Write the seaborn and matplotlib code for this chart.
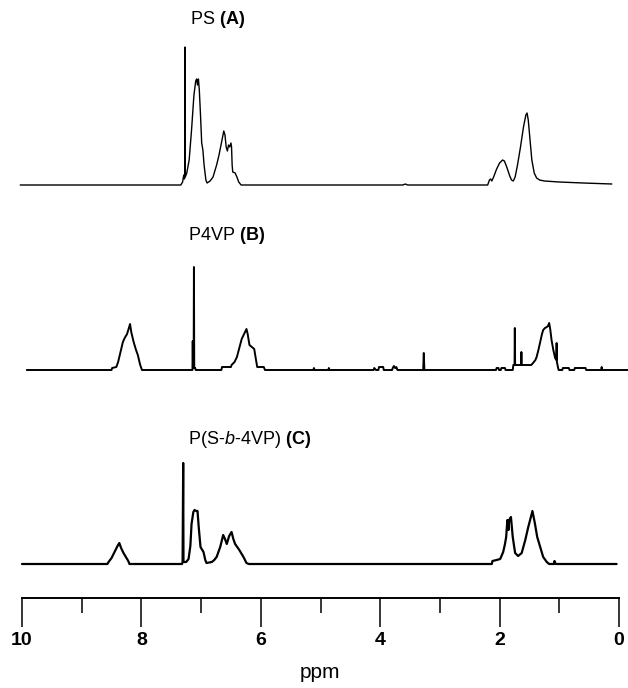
import matplotlib
matplotlib.use("Agg")
import matplotlib.pyplot as plt
from matplotlib.ticker import MultipleLocator
import seaborn as sns

# spectrum A: PS
ppm_a = [10.03, 7.34, 7.31, 7.29, 7.28, 7.275, 7.27, 7.265, 7.24, 7.20, 7.16, 7.12,
         7.09, 7.075, 7.06, 7.045, 7.03, 7.01, 6.99, 6.97, 6.95, 6.92, 6.90, 6.85,
         6.80, 6.77, 6.74, 6.70, 6.66, 6.62, 6.60, 6.58, 6.56, 6.54, 6.52, 6.50,
         6.49, 6.48, 6.47, 6.43, 6.40, 6.37, 6.33, 3.62, 3.58, 3.54, 2.20, 2.17,
         2.15, 2.13, 2.10, 2.05, 2.00, 1.95, 1.92, 1.88, 1.83, 1.80, 1.77, 1.74,
         1.70, 1.65, 1.60, 1.56, 1.54, 1.52, 1.49, 1.46, 1.42, 1.38, 1.33, 1.25,
         1.00, 0.60, 0.12]
int_a = [0, 0, 3, 10, 6, 8, 138, 8, 12, 25, 55, 90,
         104, 106, 100, 106, 95, 70, 42, 35, 20, 5, 2, 4,
         8, 14, 20, 30, 42, 54, 50, 38, 34, 40, 38, 42,
         38, 20, 13, 12, 8, 3, 0, 0, 1, 0, 0, 5,
         6, 4, 8, 16, 22, 25, 24, 18, 9, 5, 4, 8,
         20, 38, 58, 70, 72, 65, 45, 25, 12, 7, 5, 4,
         3, 2, 1]

# spectrum B: P4VP
ppm_b = [9.92, 8.50, 8.49, 8.42, 8.39, 8.35, 8.31, 8.28, 8.24, 8.21, 8.19, 8.17,
         8.13, 8.09, 8.06, 8.02, 7.99, 7.145, 7.14, 7.135, 7.125, 7.12, 7.115, 7.10,
         7.09, 6.66, 6.65, 6.50, 6.49, 6.44, 6.40, 6.36, 6.32, 6.28, 6.24, 6.22,
         6.19, 6.17, 6.11, 6.08, 6.06, 5.95, 5.93, 5.12, 5.11, 5.10, 4.87, 4.86,
         4.85, 4.11, 4.10, 4.07, 4.03, 4.02, 3.95, 3.94, 3.80, 3.79, 3.77, 3.75,
         3.73, 3.71, 3.28, 3.27, 3.26, 2.06, 2.05, 2.02, 2.01, 1.98, 1.97, 1.91,
         1.90, 1.78, 1.77, 1.75, 1.745, 1.74, 1.64, 1.635, 1.63, 1.47, 1.44, 1.40,
         1.38, 1.35, 1.32, 1.29, 1.27, 1.24, 1.21, 1.19, 1.17, 1.15, 1.13, 1.10,
         1.07, 1.05, 1.045, 1.04, 1.02, 1.01, 0.95, 0.94, 0.84, 0.83, 0.75, 0.74,
         0.56, 0.55, 0.30, 0.29, 0.28, -0.15]
int_b = [0, 0, 2, 3, 8, 18, 28, 32, 36, 42, 46, 38,
         28, 20, 15, 5, 0, 0, 29, 2, 2, 103, 2, 2,
         0, 0, 3, 3, 5, 8, 13, 22, 31, 36, 41, 36,
         25, 24, 21, 10, 3, 3, 0, 0, 2, 0, 0, 2,
         0, 0, 2, 0, 0, 3, 3, 0, 0, 2, 4, 2,
         3, 0, 0, 17, 0, 0, 2, 2, 0, 0, 2, 2,
         0, 0, 5, 5, 42, 5, 5, 18, 5, 5, 7, 10,
         13, 20, 28, 36, 40, 42, 43, 44, 47, 40, 30, 20,
         12, 10, 27, 8, 2, 0, 0, 2, 2, 0, 0, 2,
         2, 0, 0, 3, 0, 0]

# spectrum C: P(S-b-4VP)
ppm_c = [10.0, 8.57, 8.55, 8.50, 8.45, 8.40, 8.37, 8.34, 8.30, 8.26, 8.22, 8.20,
         7.32, 7.31, 7.30, 7.295, 7.25, 7.21, 7.18, 7.16, 7.13, 7.11, 7.08, 7.06,
         7.04, 7.01, 6.96, 6.93, 6.91, 6.82, 6.78, 6.74, 6.68, 6.63, 6.60, 6.57,
         6.53, 6.49, 6.46, 6.43, 6.36, 6.29, 6.24, 6.20, 2.13, 2.12, 2.05, 1.99,
         1.94, 1.91, 1.89, 1.87, 1.85, 1.84, 1.81, 1.78, 1.74, 1.69, 1.63, 1.57,
         1.52, 1.48, 1.45, 1.41, 1.37, 1.32, 1.27, 1.21, 1.17, 1.09, 1.08, 1.06,
         0.04]
int_c = [0, 0, 2, 6, 12, 18, 21, 16, 11, 7, 3, 0,
         0, 2, 101, 2, 2, 5, 18, 40, 52, 54, 53, 53,
         37, 17, 12, 4, 1, 2, 4, 7, 17, 29, 25, 20,
         28, 32, 25, 20, 14, 7, 1, 0, 0, 3, 4, 5,
         12, 20, 27, 44, 34, 44, 47, 27, 11, 8, 11, 24,
         37, 46, 53, 41, 27, 17, 7, 2, 0, 0, 3, 0,
         0]

labels = [r"PS $\mathbf{(A)}$", r"P4VP $\mathbf{(B)}$",
          r"P(S-$\mathit{b}$-4VP) $\mathbf{(C)}$"]
major_ticks = [10, 8, 6, 4, 2, 0]

sns.set_theme(style="white", rc={"text.color": "black", "xtick.color": "black",
                                 "axes.labelcolor": "black"})
plt.rcParams["font.family"] = ["Liberation Sans", "DejaVu Sans"]
plt.rcParams["mathtext.fontset"] = "custom"
plt.rcParams["mathtext.rm"] = "Liberation Sans"
plt.rcParams["mathtext.bf"] = "Liberation Sans:bold"
plt.rcParams["mathtext.it"] = "Liberation Sans:italic"

W, H = 628, 688
fig = plt.figure(figsize=(W / 100, H / 100), dpi=100)
fig.patch.set_facecolor("white")

left, width = 22 / W, 597 / W

# baseline pixel row, line width, label pos for each trace
panels = [
    (ppm_a, int_a, 185, 1.0, (190, 19)),
    (ppm_b, int_b, 370, 1.4, (188, 235)),
    (ppm_c, int_c, 564, 1.6, (188, 440)),
]
for (px, py, base, lw, (tx, ty)), lab in zip(panels, labels):
    ax = fig.add_axes([left, (H - base) / H, width, 150 / H])
    sns.lineplot(x=px, y=py, ax=ax, sort=False, estimator=None,
                 color="black", linewidth=lw, clip_on=False)
    ax.set_xlim(10, 0)
    ax.set_ylim(0, 150)
    ax.axis("off")
    fig.text(tx / W, (H - ty) / H, lab, fontsize=13, color="black",
             ha="left", va="center")

# ppm scale
sax = fig.add_axes([left, (H - 597.5) / H, width, 0.01])
sax.set_xlim(10, 0)
sax.set_facecolor("none")
for s in ["top", "left", "right"]:
    sax.spines[s].set_visible(False)
sax.spines["bottom"].set_linewidth(1.4)
sax.spines["bottom"].set_color("black")
sax.set_yticks([])
sax.set_xticks(major_ticks)
sax.xaxis.set_minor_locator(MultipleLocator(1))
sax.tick_params(axis="x", which="major", direction="out", length=21, width=1.1,
                color="black", labelcolor="black", pad=3.5, labelsize=14)
sax.tick_params(axis="x", which="minor", direction="out", length=11, width=1.1,
                color="black")
sax.xaxis.set_tick_params(bottom=True)
sax.xaxis.set_tick_params(which="minor", bottom=True)
for t in sax.get_xticklabels():
    t.set_fontweight("bold")

fig.text(320 / W, (H - 673) / H, "ppm", fontsize=15, color="black",
         ha="center", va="center")

fig.savefig("out.png", dpi=100, facecolor="white")
